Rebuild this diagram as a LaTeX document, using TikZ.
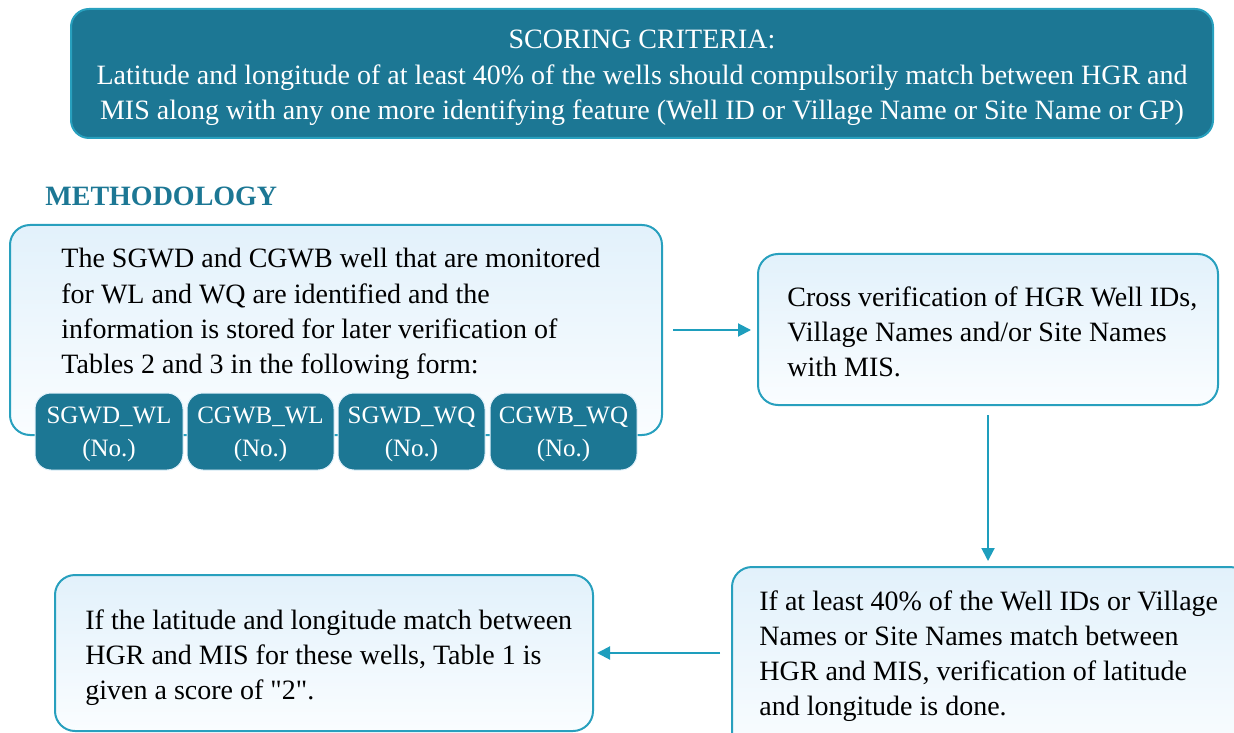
\documentclass[tikz,border=0pt]{standalone}
\usepackage{fontspec}
\setmainfont{Liberation Serif}
\usetikzlibrary{arrows.meta}
\definecolor{teal}{RGB}{28,119,148}
\definecolor{rim}{RGB}{40,160,190}
\definecolor{arrowc}{RGB}{30,158,189}
\definecolor{paletop}{RGB}{226,241,251}
\definecolor{palebot}{RGB}{250,253,255}
\tikzset{
  x=0.5pt, y=-0.5pt,
  headbox/.style={draw=rim, line width=1pt, fill=teal, rounded corners=9pt},
  stepbox/.style={draw=rim, line width=1pt, top color=paletop, bottom color=palebot, rounded corners=10pt},
  tagbox/.style={draw=paletop, line width=0.5pt, fill=teal, rounded corners=8pt},
  body/.style={inner sep=0pt, anchor=north west, align=left, font=\fontsize{14}{17.6}\selectfont},
  tagtext/.style={inner sep=0pt, text=white, align=center, font=\fontsize{12.5}{16.4}\selectfont},
  link/.style={draw=arrowc, line width=1pt, -{Triangle[length=6.5pt,width=6.5pt]}}
}
\begin{document}
\begin{tikzpicture}
\useasboundingbox (0,0) rectangle (1234,732);
\clip (0,0) rectangle (1234,732);

% scoring criteria banner
\path[headbox] (71,9) rectangle (1213,138);
\node (score) [inner sep=0pt, anchor=north, align=center, text=white,
  font=\fontsize{14}{17.6}\selectfont] at (642,30)
  {SCORING CRITERIA:\\
   Latitude and longitude of at least 40\% of the wells should compulsorily match between HGR and\\
   MIS along with any one more identifying feature (Well ID or Village Name or Site Name or GP)};

% section title
\node (title) [inner sep=0pt, anchor=base west, text=teal,
  font=\fontsize{14}{16}\selectfont\bfseries] at (45,206) {METHODOLOGY};

% step 1
\path[stepbox] (10,225) rectangle (662,435);
\node (t1) [body] at (61,248)
  {The SGWD and CGWB well that are monitored\\
   for WL and WQ are identified and the\\
   information is stored for later verification of\\
   Tables 2 and 3 in the following form:};

% record tags
\foreach \xa/\xb/\lab/\nm in {35/183/SGWD\_WL/ta, 187/334/CGWB\_WL/tb, 338/485/SGWD\_WQ/tc, 490/637/CGWB\_WQ/td}{
  \path[tagbox] (\xa,393) rectangle (\xb,470);
  \node (\nm) [tagtext] at ({(\xa+\xb)/2},434) {\lab\\(No.)};
}

% step 2
\path[stepbox] (758,254) rectangle (1218,405);
\node (t2) [body] at (787,286)
  {Cross verification of HGR Well IDs,\\
   Village Names and/or Site Names\\
   with MIS.};

% step 3
\path[stepbox] (732,567) rectangle (1250,760);
\node (t3) [body] at (759,590)
  {If at least 40\% of the Well IDs or Village\\
   Names or Site Names match between\\
   HGR and MIS, verification of latitude\\
   and longitude is done.};

% step 4
\path[stepbox] (55,575) rectangle (593,731);
\node (t4) [body] at (85,609)
  {If the latitude and longitude match between\\
   HGR and MIS for these wells, Table 1 is\\
   given a score of \textquotedbl2\textquotedbl.};

% connectors
\coordinate (a1s) at (673,330);
\coordinate (a1e) at (751,330);
\coordinate (a2s) at (988,415);
\coordinate (a2e) at (988,561);
\coordinate (a3s) at (720,653);
\coordinate (a3e) at (597,653);
\draw[link] (a1s) -- (a1e);
\draw[link] (a2s) -- (a2e);
\draw[link] (a3s) -- (a3e);
\end{tikzpicture}
\end{document}
